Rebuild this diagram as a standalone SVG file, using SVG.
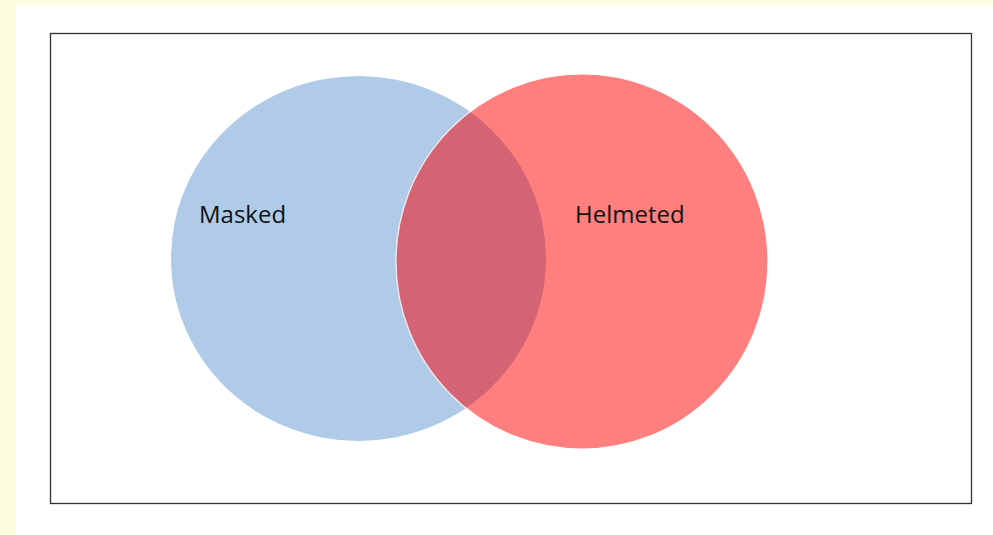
<svg xmlns="http://www.w3.org/2000/svg" width="993" height="535" viewBox="0 0 993 535">
  <style>
    .label { font-family: "Open Sans", "Liberation Sans", sans-serif; font-size: 24px; fill: #111; }
  </style>
  <defs>
    <clipPath id="clip-masked">
      <ellipse cx="358.5" cy="258.5" rx="187.5" ry="182.5"/>
    </clipPath>
  </defs>
  <!-- page background -->
  <rect x="0" y="0" width="993" height="535" fill="#FFFDE0"/>
  <rect x="16" y="5" width="977" height="530" fill="#FFFFFF"/>
  <!-- frame -->
  <rect x="50.5" y="33.5" width="921" height="470" fill="none" stroke="#333" stroke-width="1.3"/>

  <g id="masked">
    <ellipse cx="358.5" cy="258.5" rx="187.5" ry="182.5" fill="#AFCBE8"/>
    <text class="label" x="199" y="223">Masked</text>
  </g>

  <g id="helmeted">
    <ellipse cx="582" cy="261.5" rx="186" ry="187.5" fill="#FF7F7F" stroke="#FFFFFF" stroke-width="1.2"/>
    <text class="label" x="575" y="223">Helmeted</text>
  </g>

  <!-- overlap of both sets -->
  <g id="overlap">
    <ellipse cx="582" cy="261.5" rx="186" ry="187.5" fill="#D46474" stroke="#F3E3EA" stroke-width="1.2" clip-path="url(#clip-masked)"/>
  </g>
</svg>
